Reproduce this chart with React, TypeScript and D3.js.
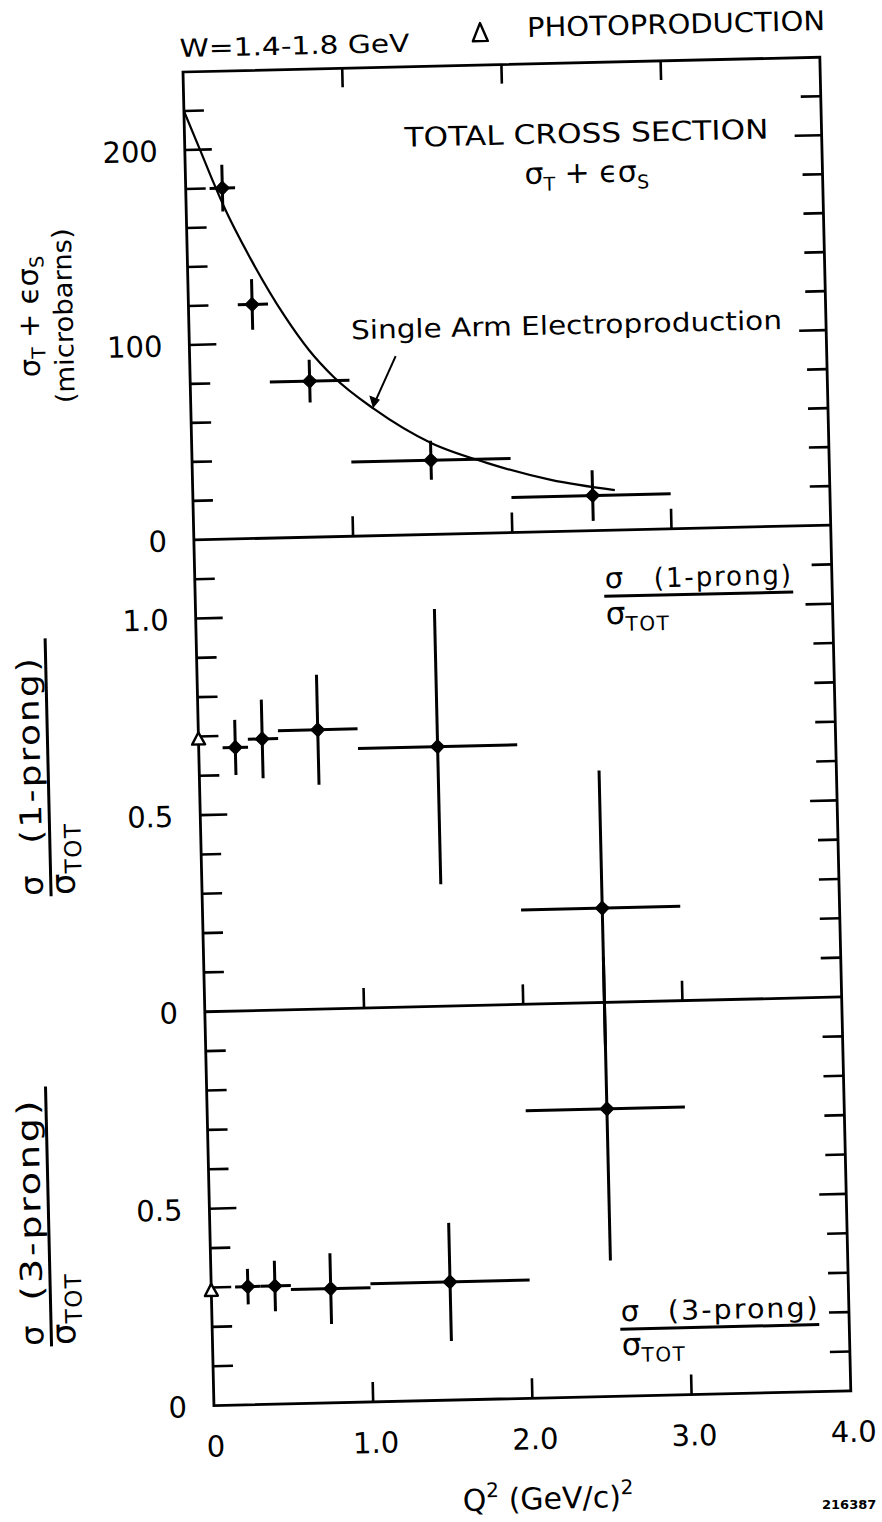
import React from 'react';
import * as d3 from 'd3';

// Q^2 axis ticks
const q2Ticks = [0, 1.0, 2.0, 3.0, 4.0];
const q2TickLabels = ['0', '1.0', '2.0', '3.0', '4.0'];

// Q^2 bins (centre, low edge, high edge), (GeV/c)^2
const q2Center = [0.23, 0.40, 0.75, 1.50, 2.51];
const q2Low = [0.15, 0.31, 0.50, 1.00, 2.00];
const q2High = [0.31, 0.50, 1.00, 2.00, 3.00];

// total cross section sigma_T + eps sigma_S (microbarns)
const totalXs = [180, 120, 80, 38, 18];
const totalErr = [12, 13, 11, 10, 13];

// single arm electroproduction curve
const curveQ2 = [0, 0.1, 0.18, 0.24, 0.4, 0.6, 0.75, 0.9, 1.15, 1.5, 1.85, 2.25, 2.65];
const curveXs = [220, 199, 182, 170, 143, 114, 96, 82, 65, 47, 36, 26.5, 20.5];

// 1-prong fraction
const oneProng = [0.67, 0.69, 0.71, 0.66, 0.24];
const oneProngErr = [0.07, 0.10, 0.14, 0.35, 0.35];
const oneProngPhoto = 0.695;

// 3-prong fraction
const threeProng = [0.30, 0.30, 0.29, 0.30, 0.73];
const threeProngErr = [0.045, 0.064, 0.09, 0.15, 0.385];
const threeProngPhoto = 0.294;

// y-axis ticks and labelled values per panel
const topTicks = [20, 40, 60, 80, 100, 120, 140, 160, 180, 200, 220];
const topLabelValues = [0, 100, 200];
const topLabelText = ['0', '100', '200'];
const midTicks = [0.1, 0.2, 0.3, 0.4, 0.5, 0.6, 0.7, 0.8, 0.9, 1.0, 1.1];
const midLabelValues = [0, 0.5, 1.0];
const midLabelText = ['0', '0.5', '1.0'];
const botTicks = [0.1, 0.2, 0.3, 0.4, 0.5, 0.6, 0.7, 0.8, 0.9];
const botLabelValues = [0, 0.5];
const botLabelText = ['0', '0.5'];

const FONT = "'DejaVu Sans', sans-serif";
const L = 183;
const T = 72;
const W = 637;
const R = L + W;
const Y1 = 540;
const Y2 = 1012;
const B = 1406;

function YTicks({ scale, ticks, majors }: { scale: d3.ScaleLinear<number, number>; ticks: number[]; majors: number[] }) {
  return (
    <g stroke="#000" strokeWidth={2.6}>
      {ticks.map((t) => {
        const len = majors.some((m) => Math.abs(m - t) < 1e-9) ? 27 : 20;
        const y = scale(t);
        return (
          <g key={t}>
            <line x1={L} x2={L + len} y1={y} y2={y} />
            <line x1={R} x2={R - len} y1={y} y2={y} />
          </g>
        );
      })}
    </g>
  );
}

function YLabels({ scale, values, labels }: { scale: d3.ScaleLinear<number, number>; values: number[]; labels: string[] }) {
  return (
    <g fontSize={29} textAnchor="end" dominantBaseline="central">
      {values.map((v, i) => (
        <text key={labels[i]} x={L - 27} y={scale(v) + 1}>{labels[i]}</text>
      ))}
    </g>
  );
}

function Points({
  xs, ys, vals, errs,
}: { xs: d3.ScaleLinear<number, number>; ys: d3.ScaleLinear<number, number>; vals: number[]; errs: number[] }) {
  return (
    <g stroke="#000" strokeWidth={3} fill="#000">
      {vals.map((v, i) => {
        const cx = xs(q2Center[i]);
        const cy = ys(v);
        const d = 7;
        return (
          <g key={i}>
            <line x1={xs(q2Low[i])} x2={xs(q2High[i])} y1={cy} y2={cy} />
            <line x1={cx} x2={cx} y1={ys(v - errs[i])} y2={ys(v + errs[i])} />
            <path d={`M${cx},${cy - d}L${cx + d},${cy}L${cx},${cy + d}L${cx - d},${cy}Z`} strokeWidth={1} strokeLinejoin="round" />
          </g>
        );
      })}
    </g>
  );
}

function Triangle({ cx, cy, w, h }: { cx: number; cy: number; w: number; h: number }) {
  return (
    <path
      d={`M${cx},${cy - h / 2}L${cx + w / 2},${cy + h / 2}L${cx - w / 2},${cy + h / 2}Z`}
      fill="#fff"
      stroke="#000"
      strokeWidth={2.4}
      strokeLinejoin="round"
    />
  );
}

// sigma (n-prong) over sigma_TOT, laid out from a start point along the reading direction
function ProngFraction({
  x, y, prong, numWidth, barLen, gap, size, denomY,
}: { x: number; y: number; prong: string; numWidth: number; barLen: number; gap: number; size: number; denomY: number }) {
  return (
    <g>
      <text x={x} y={y} fontSize={size + 2}>σ</text>
      <text x={x + gap} y={y} fontSize={size} letterSpacing={2} textLength={numWidth} lengthAdjust="spacingAndGlyphs">
        {`(${prong}-prong)`}
      </text>
      <line x1={x - 1} x2={x - 1 + barLen} y1={y + 8} y2={y + 8} stroke="#000" strokeWidth={3} />
      <text x={x} y={y + denomY} fontSize={size + 4}>
        <tspan>σ</tspan>
        <tspan fontSize={size - 7} dy={7} letterSpacing={1.5}>TOT</tspan>
      </text>
    </g>
  );
}

export default function App() {
  const xs = d3.scaleLinear().domain([0, 4]).range([L, R]);
  const yTop = d3.scaleLinear().domain([0, 240]).range([Y1, T]);
  const yMid = d3.scaleLinear().domain([0, 1.2]).range([Y2, Y1]);
  const yBot = d3.scaleLinear().domain([0, 1.0]).range([B, Y2]);

  const curvePath = d3
    .line<number>()
    .x((_, i) => xs(curveQ2[i]))
    .y((v) => yTop(v))
    .curve(d3.curveMonotoneX)(curveXs) as string;

  const innerX = [1, 2, 3];

  return (
    <svg
      width={882}
      height={1522}
      viewBox="0 0 882 1522"
      style={{ position: 'absolute', left: 0, top: 0, background: '#fff' }}
      fontFamily={FONT}
    >
      <rect x={0} y={0} width={882} height={1522} fill="#fff" />
      <g transform={`rotate(-1.33 ${L} ${T})`}>
        {/* header */}
        <text x={180} y={57} fontSize={25} textLength={230} lengthAdjust="spacingAndGlyphs">W=1.4-1.8 GeV</text>
        <Triangle cx={481} cy={39} w={15} h={18} />
        <text x={528} y={45} fontSize={27} textLength={298} lengthAdjust="spacingAndGlyphs">PHOTOPRODUCTION</text>

        {/* frame and panel separators */}
        <g stroke="#000" strokeWidth={2.8} fill="none">
          <rect x={L} y={T} width={W} height={B - T} />
          <line x1={L} x2={R} y1={Y1} y2={Y1} />
          <line x1={L} x2={R} y1={Y2} y2={Y2} />
        </g>

        {/* x ticks */}
        <g stroke="#000" strokeWidth={2.6}>
          {innerX.map((q) => (
            <g key={q}>
              <line x1={xs(q)} x2={xs(q)} y1={T} y2={T + 19} />
              <line x1={xs(q)} x2={xs(q)} y1={Y1} y2={Y1 - 20} />
              <line x1={xs(q)} x2={xs(q)} y1={Y2} y2={Y2 - 20} />
              <line x1={xs(q)} x2={xs(q)} y1={B} y2={B - 20} />
            </g>
          ))}
        </g>

        {/* y ticks */}
        <YTicks scale={yTop} ticks={topTicks} majors={[100, 200]} />
        <YTicks scale={yMid} ticks={midTicks} majors={[0.5, 1.0]} />
        <YTicks scale={yBot} ticks={botTicks} majors={[0.5]} />

        {/* y tick labels */}
        <YLabels scale={yTop} values={topLabelValues} labels={topLabelText} />
        <YLabels scale={yMid} values={midLabelValues} labels={midLabelText} />
        <YLabels scale={yBot} values={botLabelValues} labels={botLabelText} />

        {/* x tick labels */}
        <g fontSize={29} textAnchor="middle" dominantBaseline="central">
          {q2Ticks.map((q, i) => (
            <text key={q} x={xs(q) + (i === 0 ? 1 : 2)} y={B + 41}>{q2TickLabels[i]}</text>
          ))}
        </g>

        {/* x title */}
        <text x={515} y={1517} fontSize={30} textAnchor="middle">
          <tspan>Q</tspan>
          <tspan fontSize={20} dy={-13}>2</tspan>
          <tspan dy={13}>  (GeV/c)</tspan>
          <tspan fontSize={20} dy={-13}>2</tspan>
        </text>

        {/* top panel: total cross section */}
        <path d={curvePath} fill="none" stroke="#000" strokeWidth={2.2} />
        <Points xs={xs} ys={yTop} vals={totalXs} errs={totalErr} />
        <text x={403} y={152} fontSize={27} textLength={364} lengthAdjust="spacingAndGlyphs">TOTAL CROSS SECTION</text>
        <text x={522} y={192} fontSize={30}>
          <tspan>σ</tspan>
          <tspan fontSize={19} dy={7}>T</tspan>
          <tspan dy={-7}> + ϵσ</tspan>
          <tspan fontSize={19} dy={7}>S</tspan>
        </text>
        <text x={345} y={343} fontSize={26} textLength={431} lengthAdjust="spacingAndGlyphs">Single Arm Electroproduction</text>
        <line x1={389} y1={361} x2={367} y2={407} stroke="#000" strokeWidth={2} />
        <path d="M365.4,411.5L362.5,400.5L371.5,404.5Z" fill="#000" stroke="#000" strokeWidth={1} />

        {/* top panel y title */}
        <g transform="translate(33,313) rotate(-90)">
          <text x={0} y={0} fontSize={29} textAnchor="middle">
            <tspan>σ</tspan>
            <tspan fontSize={19} dy={6}>T</tspan>
            <tspan dy={-6}> + ϵσ</tspan>
            <tspan fontSize={19} dy={6}>S</tspan>
          </text>
        </g>
        <g transform="translate(67,313) rotate(-90)">
          <text x={0} y={0} fontSize={26} textAnchor="middle" textLength={175} lengthAdjust="spacingAndGlyphs">(microbarns)</text>
        </g>

        {/* middle panel: 1-prong fraction */}
        <Triangle cx={xs(0)} cy={yMid(oneProngPhoto)} w={13} h={12} />
        <Points xs={xs} ys={yMid} vals={oneProng} errs={oneProngErr} />
        <ProngFraction x={593} y={598} prong="1" numWidth={139} barLen={189} gap={49} size={27} denomY={36} />
        <g transform="translate(0,892) rotate(-90)">
          <ProngFraction x={0} y={24} prong="1" numWidth={188} barLen={258} gap={52} size={30} denomY={32} />
        </g>

        {/* bottom panel: 3-prong fraction */}
        <Triangle cx={xs(0)} cy={yBot(threeProngPhoto)} w={13} h={12} />
        <Points xs={xs} ys={yBot} vals={threeProng} errs={threeProngErr} />
        <ProngFraction x={592} y={1331} prong="3" numWidth={152} barLen={199} gap={47} size={27} denomY={34} />
        <g transform="translate(14,1342) rotate(-90)">
          <ProngFraction x={0} y={0} prong="3" numWidth={203} barLen={260} gap={45} size={30} denomY={32} />
        </g>
      </g>
      <text x={822} y={1509} fontSize={13} fontWeight="bold" fontFamily={FONT}>216387</text>
    </svg>
  );
}
